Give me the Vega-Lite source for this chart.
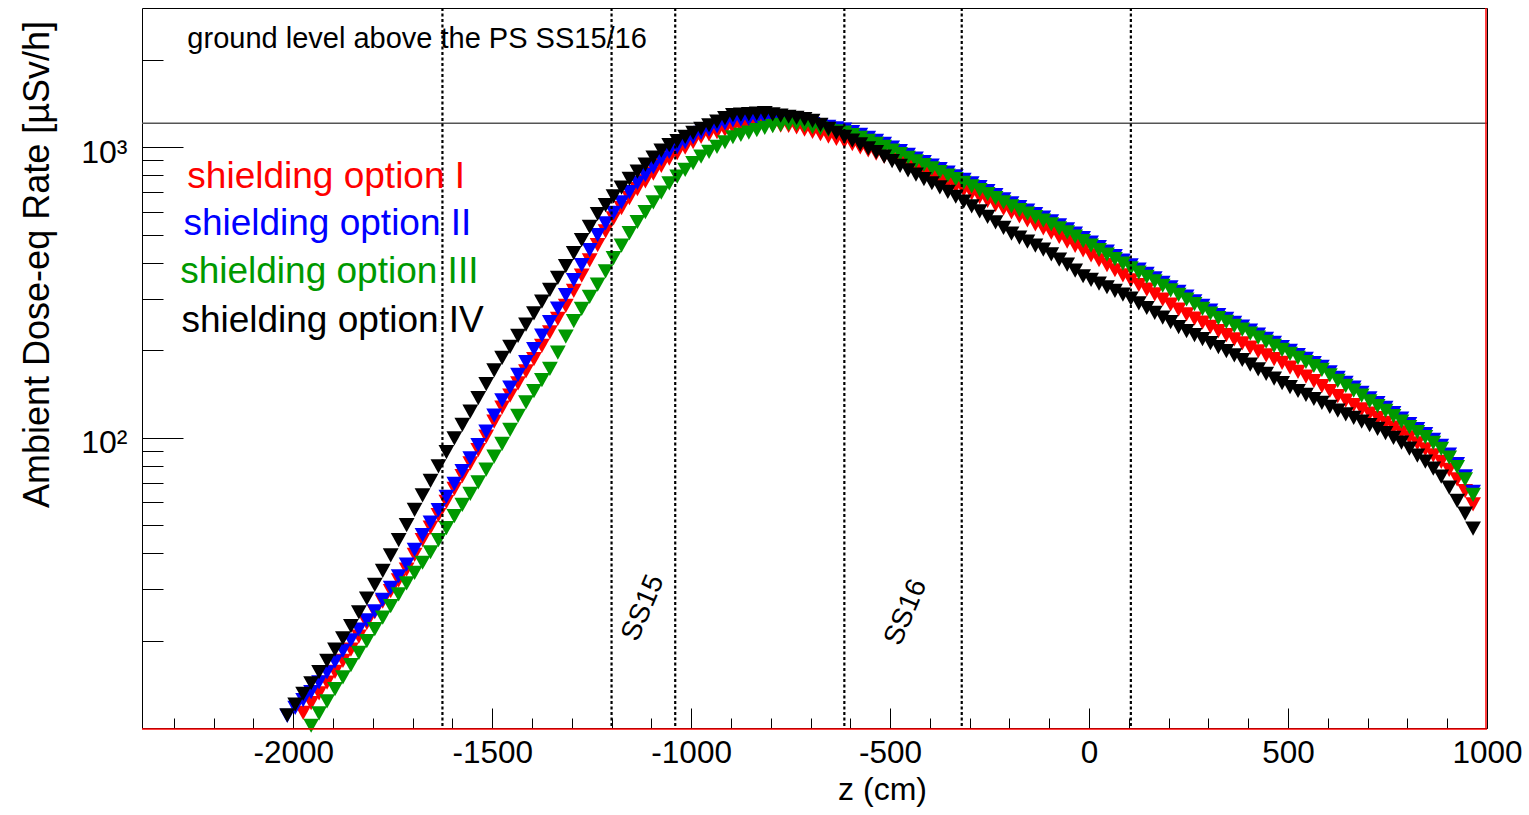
{
  "$schema": "https://vega.github.io/schema/vega-lite/v6.json",
  "width": 1345,
  "height": 720,
  "autosize": {"type": "none"},
  "padding": {"left": 142, "top": 8, "right": 42, "bottom": 87},
  "background": "white",
  "config": {
    "font": "Liberation Sans",
    "view": {"stroke": "black", "strokeWidth": 1},
    "axis": {"grid": false, "domain": false, "tickColor": "black", "tickWidth": 1, "labelColor": "black", "titleColor": "black", "titleFontWeight": "normal", "labelFont": "Liberation Sans", "titleFont": "Liberation Sans", "labelFlush": false, "labelOverlap": false, "labelBound": false}
  },
  "datasets": {
    "d": [
      {"z":-2015,"II":11.0,"IV":11.06},
      {"z":-1995,"II":11.72,"IV":12.03},
      {"z":-1975,"I":11.27,"II":12.48,"IV":13.1},
      {"z":-1955,"I":12.17,"II":13.3,"III":10.18,"IV":14.26},
      {"z":-1935,"I":13.16,"II":14.36,"III":11.22,"IV":15.56},
      {"z":-1915,"I":14.32,"II":15.54,"III":12.35,"IV":17.02},
      {"z":-1895,"I":15.6,"II":16.92,"III":13.6,"IV":18.62},
      {"z":-1875,"I":17.02,"II":18.42,"III":14.95,"IV":20.37},
      {"z":-1855,"I":18.61,"II":20.05,"III":16.47,"IV":22.44},
      {"z":-1835,"I":20.64,"II":21.83,"III":18.13,"IV":25.02},
      {"z":-1815,"I":22.95,"II":23.48,"III":19.92,"IV":27.92},
      {"z":-1795,"I":25.06,"II":25.22,"III":21.89,"IV":31.12},
      {"z":-1775,"I":27.22,"II":27.63,"III":23.99,"IV":34.78},
      {"z":-1755,"I":29.61,"II":30.35,"III":26.3,"IV":39.28},
      {"z":-1735,"I":32.26,"II":33.31,"III":28.86,"IV":44.37},
      {"z":-1715,"I":35.12,"II":36.51,"III":31.47,"IV":50.0},
      {"z":-1695,"I":39.44,"II":41.03,"III":34.19,"IV":56.4},
      {"z":-1675,"I":44.33,"II":46.12,"III":37.07,"IV":63.2},
      {"z":-1655,"I":48.94,"II":50.92,"III":40.29,"IV":71.0},
      {"z":-1635,"I":54.05,"II":56.23,"III":44.37,"IV":79.6},
      {"z":-1615,"I":60.02,"II":62.45,"III":48.82,"IV":89.1},
      {"z":-1595,"I":66.65,"II":69.34,"III":53.7,"IV":99.4},
      {"z":-1575,"I":73.68,"II":76.63,"III":58.62,"IV":110.6},
      {"z":-1555,"I":81.47,"II":84.79,"III":64.06,"IV":122.9},
      {"z":-1535,"I":90.57,"II":94.21,"III":70.07,"IV":136.8},
      {"z":-1515,"I":100.7,"II":104.9,"III":77.55,"IV":152.7},
      {"z":-1495,"I":113.4,"II":119.1,"III":86.01,"IV":170.4},
      {"z":-1475,"I":126.8,"II":134.3,"III":95.19,"IV":188.0},
      {"z":-1455,"I":139.6,"II":148.6,"III":106.3,"IV":205.3},
      {"z":-1435,"I":153.7,"II":164.5,"III":118.7,"IV":224.2},
      {"z":-1415,"I":169.0,"II":182.0,"III":132.1,"IV":244.9},
      {"z":-1395,"I":186.2,"II":201.7,"III":144.5,"IV":267.9},
      {"z":-1375,"I":207.0,"II":224.4,"III":157.7,"IV":294.1},
      {"z":-1355,"I":230.2,"II":249.8,"III":172.4,"IV":322.8},
      {"z":-1335,"I":256.1,"II":278.3,"III":196.0,"IV":354.6},
      {"z":-1315,"I":284.3,"II":309.5,"III":222.8,"IV":389.7},
      {"z":-1295,"I":320.3,"II":348.6,"III":252.0,"IV":432.1},
      {"z":-1275,"I":361.1,"II":392.5,"III":277.3,"IV":479.1},
      {"z":-1255,"I":407.6,"II":442.1,"III":305.4,"IV":531.2},
      {"z":-1235,"I":460.1,"II":498.4,"III":336.5,"IV":588.8},
      {"z":-1215,"I":513.2,"II":547.0,"III":373.7,"IV":632.0},
      {"z":-1195,"I":568.4,"II":594.5,"III":414.9,"IV":677.1},
      {"z":-1175,"I":616.3,"II":645.2,"III":457.9,"IV":725.5},
      {"z":-1155,"I":668.3,"II":700.9,"III":506.0,"IV":777.4},
      {"z":-1135,"I":717.5,"II":753.2,"III":552.6,"IV":824.0},
      {"z":-1115,"I":762.5,"II":801.9,"III":597.3,"IV":871.0},
      {"z":-1095,"I":810.9,"II":854.4,"III":645.7,"IV":920.1},
      {"z":-1075,"I":862.0,"II":909.9,"III":698.1,"IV":972.5},
      {"z":-1055,"I":912.7,"II":963.3,"III":750.1,"IV":1016},
      {"z":-1035,"I":953.4,"II":1001,"III":791.6,"IV":1050},
      {"z":-1015,"I":996.1,"II":1040,"III":835.0,"IV":1085},
      {"z":-995,"I":1041,"II":1081,"III":881.6,"IV":1120},
      {"z":-975,"I":1085,"II":1121,"III":927.3,"IV":1156},
      {"z":-955,"I":1106,"II":1149,"III":964.0,"IV":1190},
      {"z":-935,"I":1127,"II":1179,"III":1002,"IV":1224},
      {"z":-915,"I":1149,"II":1208,"III":1040,"IV":1260},
      {"z":-895,"I":1171,"II":1238,"III":1082,"IV":1290},
      {"z":-875,"I":1177,"II":1244,"III":1103,"IV":1295},
      {"z":-855,"I":1181,"II":1248,"III":1123,"IV":1299},
      {"z":-835,"I":1185,"II":1253,"III":1144,"IV":1305},
      {"z":-815,"I":1190,"II":1258,"III":1166,"IV":1310},
      {"z":-795,"I":1189,"II":1255,"III":1181,"IV":1298},
      {"z":-775,"I":1186,"II":1249,"III":1193,"IV":1285},
      {"z":-755,"I":1183,"II":1242,"III":1203,"IV":1273},
      {"z":-735,"I":1171,"II":1236,"III":1203,"IV":1261},
      {"z":-715,"I":1150,"II":1217,"III":1188,"IV":1249},
      {"z":-695,"I":1128,"II":1201,"III":1173,"IV":1233},
      {"z":-675,"I":1108,"II":1188,"III":1160,"IV":1194},
      {"z":-655,"I":1087,"II":1175,"III":1147,"IV":1157},
      {"z":-635,"I":1067,"II":1161,"III":1134,"IV":1121},
      {"z":-615,"I":1047,"II":1149,"III":1122,"IV":1086},
      {"z":-595,"I":1024,"II":1127,"III":1101,"IV":1053},
      {"z":-575,"I":998.4,"II":1102,"III":1076,"IV":1022},
      {"z":-555,"I":974.1,"II":1076,"III":1051,"IV":990.6},
      {"z":-535,"I":949.7,"II":1052,"III":1027,"IV":961.1},
      {"z":-515,"I":927.3,"II":1026,"III":1002,"IV":928.2},
      {"z":-495,"I":906.2,"II":995.8,"III":972.5,"IV":894.9},
      {"z":-475,"I":886.4,"II":968.7,"III":946.0,"IV":862.9},
      {"z":-455,"I":866.3,"II":940.6,"III":918.6,"IV":831.8},
      {"z":-435,"I":844.6,"II":914.2,"III":892.8,"IV":803.9},
      {"z":-415,"I":821.4,"II":889.1,"III":868.3,"IV":776.7},
      {"z":-395,"I":798.9,"II":864.9,"III":844.6,"IV":751.3},
      {"z":-375,"I":776.7,"II":841.1,"III":821.4,"IV":726.7},
      {"z":-355,"I":755.4,"II":818.1,"III":798.9,"IV":701.2},
      {"z":-335,"I":733.5,"II":794.2,"III":775.6,"IV":675.0},
      {"z":-315,"I":712.9,"II":772.4,"III":754.3,"IV":649.9},
      {"z":-295,"I":692.8,"II":750.0,"III":732.4,"IV":625.6},
      {"z":-275,"I":673.5,"II":728.9,"III":711.8,"IV":601.2},
      {"z":-255,"I":653.5,"II":705.6,"III":689.1,"IV":575.2},
      {"z":-235,"I":633.5,"II":683.2,"III":667.2,"IV":550.5},
      {"z":-215,"I":614.7,"II":661.2,"III":645.7,"IV":527.0},
      {"z":-195,"I":596.0,"II":640.1,"III":625.1,"IV":504.3},
      {"z":-175,"I":577.4,"II":622.0,"III":607.4,"IV":488.6},
      {"z":-155,"I":559.3,"II":605.0,"III":590.8,"IV":473.3},
      {"z":-135,"I":541.8,"II":588.4,"III":574.6,"IV":458.5},
      {"z":-115,"I":525.3,"II":572.2,"III":558.8,"IV":444.2},
      {"z":-95,"I":508.1,"II":555.2,"III":542.2,"IV":427.2},
      {"z":-75,"I":490.6,"II":537.9,"III":525.3,"IV":410.0},
      {"z":-55,"I":473.3,"II":521.1,"III":508.9,"IV":393.8},
      {"z":-35,"I":457.1,"II":504.3,"III":492.5,"IV":376.1},
      {"z":-15,"I":441.4,"II":486.6,"III":475.2,"IV":359.4},
      {"z":5,"I":424.3,"II":469.5,"III":458.5,"IV":349.0},
      {"z":25,"I":408.0,"II":453.1,"III":442.5,"IV":339.2},
      {"z":45,"I":392.2,"II":436.8,"III":426.6,"IV":329.4},
      {"z":65,"I":376.9,"II":421.5,"III":411.6,"IV":319.8},
      {"z":85,"I":362.2,"II":406.7,"III":397.2,"IV":310.8},
      {"z":105,"I":348.0,"II":392.1,"III":382.9,"IV":301.1},
      {"z":125,"I":335.3,"II":379.0,"III":370.1,"IV":290.1},
      {"z":145,"I":323.1,"II":366.0,"III":357.4,"IV":279.4},
      {"z":165,"I":311.1,"II":353.4,"III":345.1,"IV":269.0},
      {"z":185,"I":298.9,"II":341.3,"III":333.3,"IV":259.1},
      {"z":205,"I":287.3,"II":329.1,"III":321.4,"IV":249.6},
      {"z":225,"I":275.9,"II":317.5,"III":310.1,"IV":240.3},
      {"z":245,"I":265.8,"II":306.1,"III":298.9,"IV":232.4},
      {"z":265,"I":257.0,"II":294.8,"III":287.9,"IV":225.4},
      {"z":285,"I":248.6,"II":284.3,"III":277.6,"IV":218.3},
      {"z":305,"I":240.4,"II":273.9,"III":267.5,"IV":211.5},
      {"z":325,"I":232.6,"II":264.2,"III":258.0,"IV":204.8},
      {"z":345,"I":225.2,"II":256.2,"III":250.2,"IV":198.6},
      {"z":365,"I":217.9,"II":248.4,"III":242.6,"IV":191.9},
      {"z":385,"I":210.9,"II":241.0,"III":235.4,"IV":185.0},
      {"z":405,"I":204.2,"II":233.7,"III":228.2,"IV":178.4},
      {"z":425,"I":198.1,"II":226.2,"III":220.9,"IV":171.9},
      {"z":445,"I":192.0,"II":218.9,"III":213.8,"IV":165.7},
      {"z":465,"I":186.2,"II":212.0,"III":207.0,"IV":159.7},
      {"z":485,"I":180.7,"II":205.1,"III":200.3,"IV":154.0},
      {"z":505,"I":174.3,"II":198.8,"III":194.1,"IV":149.2},
      {"z":525,"I":168.4,"II":192.5,"III":188.0,"IV":144.7},
      {"z":545,"I":162.3,"II":186.5,"III":182.1,"IV":140.2},
      {"z":565,"I":156.5,"II":180.6,"III":176.4,"IV":135.8},
      {"z":585,"I":150.5,"II":175.2,"III":171.1,"IV":131.6},
      {"z":605,"I":144.7,"II":167.8,"III":163.9,"IV":127.5},
      {"z":625,"I":139.0,"II":160.6,"III":156.8,"IV":123.8},
      {"z":645,"I":134.1,"II":154.2,"III":150.6,"IV":120.2},
      {"z":665,"I":129.4,"II":148.6,"III":145.1,"IV":116.9},
      {"z":685,"I":125.1,"II":142.7,"III":139.4,"IV":113.4},
      {"z":705,"I":120.9,"II":136.6,"III":133.4,"IV":110.3},
      {"z":725,"I":116.7,"II":131.4,"III":128.3,"IV":107.1},
      {"z":745,"I":112.3,"II":126.5,"III":123.5,"IV":103.6},
      {"z":765,"I":108.2,"II":121.4,"III":118.6,"IV":99.8},
      {"z":785,"I":104.2,"II":116.3,"III":113.6,"IV":96.1},
      {"z":805,"I":100.2,"II":111.3,"III":108.7,"IV":91.6},
      {"z":825,"I":95.6,"II":107.0,"III":104.5,"IV":86.7},
      {"z":845,"I":91.1,"II":102.7,"III":100.3,"IV":82.6},
      {"z":865,"I":86.8,"II":98.2,"III":95.9,"IV":78.2},
      {"z":885,"I":82.5,"II":93.6,"III":91.4,"IV":73.4},
      {"z":905,"I":77.4,"II":87.3,"III":85.3,"IV":67.2},
      {"z":925,"I":71.8,"II":81.1,"III":79.2,"IV":60.6},
      {"z":945,"I":65.4,"II":73.5,"III":71.8,"IV":54.7},
      {"z":965,"I":58.9,"II":65.0,"III":63.5,"IV":48.6}
    ]
  },
  "layer": [
    {
      "data": {"values": [{"v": 1210}]},
      "mark": {"type": "rule", "color": "#555555", "strokeWidth": 1.5},
      "encoding": {
        "y": {"field": "v", "type": "quantitative", "scale": {"type": "log", "domain": [10, 3015], "nice": false}, "axis": null}
      }
    },
    {
      "data": {"name": "d"},
      "mark": {"type": "point", "shape": "M-1,-0.9L1,-0.9L0,0.9Z", "size": 250, "filled": true, "opacity": 1, "color": "#ff0000", "strokeWidth": 0},
      "encoding": {
        "x": {"field": "z", "type": "quantitative", "scale": {"domain": [-2380, 1000], "nice": false, "zero": false},
          "axis": {"orient": "bottom", "values": [-2000, -1500, -1000, -500, 0, 500, 1000], "labelExpr": "'' + datum.value", "tickSize": -20, "labelPadding": 29, "labelFontSize": 31.5, "title": "z (cm)", "titleFontSize": 32, "titleX": 740, "titleY": 71, "titleBaseline": "alphabetic", "titleAlign": "center"}},
        "y": {"field": "I", "type": "quantitative", "scale": {"type": "log", "domain": [10, 3015], "nice": false},
          "axis": {"orient": "left", "values": [100, 1000], "labelExpr": "datum.value == 100 ? '10²' : '10³'", "tickSize": -41, "labelPadding": 56, "labelFontSize": 32, "labelAlign": "right", "labelBaseline": "middle", "labelOffset": 5, "title": "Ambient Dose-eq Rate [µSv/h]", "titleFontSize": 36, "titleX": -94, "titleY": 256, "titleAngle": 270, "titleBaseline": "alphabetic", "titleAlign": "center"}}
      }
    },
    {
      "data": {"name": "d"},
      "mark": {"type": "point", "shape": "M-1,-0.9L1,-0.9L0,0.9Z", "size": 250, "filled": true, "opacity": 1, "color": "#0000ff", "strokeWidth": 0},
      "encoding": {
        "x": {"field": "z", "type": "quantitative", "scale": {"domain": [-2380, 1000], "nice": false, "zero": false},
          "axis": {"orient": "bottom", "values": [-2300, -2200, -2100, -1900, -1800, -1700, -1600, -1400, -1300, -1200, -1100, -900, -800, -700, -600, -400, -300, -200, -100, 100, 200, 300, 400, 600, 700, 800, 900], "tickSize": -10, "labels": false, "title": null}},
        "y": {"field": "II", "type": "quantitative", "scale": {"type": "log", "domain": [10, 3015], "nice": false},
          "axis": {"orient": "left", "values": [20, 30, 40, 50, 60, 70, 80, 90, 200, 300, 400, 500, 600, 700, 800, 900, 2000], "tickSize": -21, "labels": false, "title": null}}
      }
    },
    {
      "data": {"name": "d"},
      "mark": {"type": "point", "shape": "M-1,-0.9L1,-0.9L0,0.9Z", "size": 250, "filled": true, "opacity": 1, "color": "#009900", "strokeWidth": 0},
      "encoding": {
        "x": {"field": "z", "type": "quantitative", "scale": {"domain": [-2380, 1000], "nice": false, "zero": false}, "axis": null},
        "y": {"field": "III", "type": "quantitative", "scale": {"type": "log", "domain": [10, 3015], "nice": false}, "axis": null}
      }
    },
    {
      "data": {"name": "d"},
      "mark": {"type": "point", "shape": "M-1,-0.9L1,-0.9L0,0.9Z", "size": 250, "filled": true, "opacity": 1, "color": "#000000", "strokeWidth": 0},
      "encoding": {
        "x": {"field": "z", "type": "quantitative", "scale": {"domain": [-2380, 1000], "nice": false, "zero": false}, "axis": null},
        "y": {"field": "IV", "type": "quantitative", "scale": {"type": "log", "domain": [10, 3015], "nice": false}, "axis": null}
      }
    },
    {
      "data": {"values": [{"z": -1625}, {"z": -1200}, {"z": -1040}, {"z": -615}, {"z": -320}, {"z": 105}]},
      "mark": {"type": "rule", "color": "#000000", "strokeWidth": 2.2, "strokeDash": [3, 2.5]},
      "encoding": {
        "x": {"field": "z", "type": "quantitative", "scale": {"domain": [-2380, 1000], "nice": false, "zero": false}, "axis": null}
      }
    },
    {
      "data": {"values": [{"v": 10}]},
      "mark": {"type": "rule", "color": "#ff0000", "strokeWidth": 1.5, "yOffset": 1},
      "encoding": {
        "y": {"field": "v", "type": "quantitative", "scale": {"type": "log", "domain": [10, 3015], "nice": false}, "axis": null}
      }
    },
    {
      "data": {"values": [{"z": 1000}]},
      "mark": {"type": "rule", "color": "#ff0000", "strokeWidth": 1.5, "xOffset": -1},
      "encoding": {
        "x": {"field": "z", "type": "quantitative", "scale": {"domain": [-2380, 1000], "nice": false, "zero": false}, "axis": null}
      }
    },
    {
      "data": {"values": [
        {"s": "I", "t": "shielding option I", "z": -2266, "v": 722.2},
        {"s": "II", "t": "shielding option II", "z": -2276, "v": 497.2},
        {"s": "III", "t": "shielding option III", "z": -2284, "v": 339.6},
        {"s": "IV", "t": "shielding option IV", "z": -2281, "v": 230.2}
      ]},
      "mark": {"type": "text", "align": "left", "baseline": "alphabetic", "fontSize": 37, "font": "Liberation Sans"},
      "encoding": {
        "x": {"field": "z", "type": "quantitative", "scale": {"domain": [-2380, 1000], "nice": false, "zero": false}, "axis": null},
        "y": {"field": "v", "type": "quantitative", "scale": {"type": "log", "domain": [10, 3015], "nice": false}, "axis": null},
        "text": {"field": "t"},
        "color": {"field": "s", "type": "nominal", "scale": {"domain": ["I", "II", "III", "IV"], "range": ["#ff0000", "#0000ff", "#009900", "#000000"]}, "legend": null}
      }
    },
    {
      "data": {"values": [{"t": "ground level above the PS SS15/16", "z": -2266, "v": 2195}]},
      "mark": {"type": "text", "align": "left", "baseline": "alphabetic", "fontSize": 29, "font": "Liberation Sans", "color": "#000000"},
      "encoding": {
        "x": {"field": "z", "type": "quantitative", "scale": {"domain": [-2380, 1000], "nice": false, "zero": false}, "axis": null},
        "y": {"field": "v", "type": "quantitative", "scale": {"type": "log", "domain": [10, 3015], "nice": false}, "axis": null},
        "text": {"field": "t"}
      }
    },
    {
      "data": {"values": [{"t": "SS15", "z": -1120, "v": 25.9}, {"t": "SS16", "z": -460, "v": 25.0}]},
      "mark": {"type": "text", "align": "center", "baseline": "middle", "fontSize": 28, "angle": -67, "font": "Liberation Sans", "color": "#000000"},
      "encoding": {
        "x": {"field": "z", "type": "quantitative", "scale": {"domain": [-2380, 1000], "nice": false, "zero": false}, "axis": null},
        "y": {"field": "v", "type": "quantitative", "scale": {"type": "log", "domain": [10, 3015], "nice": false}, "axis": null},
        "text": {"field": "t"}
      }
    }
  ],
  "resolve": {"axis": {"x": "independent", "y": "independent"}}
}
